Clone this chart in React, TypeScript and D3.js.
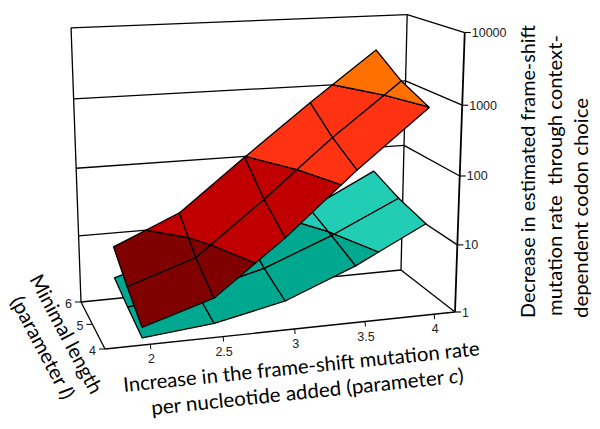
import React from "react";
import * as d3 from "d3";

const cValues = [2, 2.5, 3, 3.5, 4];
const lValues = [4, 5, 6];
const zTicks = [1, 10, 100, 1000, 10000];
// log10 of the decrease, rows l = 4,5,6, columns c = 2..4
const redLog = [
  [0.25, 0.56, 1.32, 2.19, 2.995],
  [0.5, 0.83, 1.6, 2.43, 3.19],
  [0.79, 1.22, 1.99, 2.75, 3.49],
];
const tealLog = [
  [0.1, 0.2, 0.42, 0.83, 1.35],
  [0.2, 0.32, 0.58, 0.98, 1.46],
  [0.32, 0.61, 0.81, 1.12, 1.63],
];
const redBands = [
  { lo: -9, hi: 1, fill: "#800000" },
  { lo: 1, hi: 2, fill: "#c00000" },
  { lo: 2, hi: 3, fill: "#ff3311" },
  { lo: 3, hi: 9, fill: "#ff7000" },
];
const tealBands = [
  { lo: -9, hi: 1, fill: "#00a88f" },
  { lo: 1, hi: 9, fill: "#22cdb5" },
];

const O = [105, 349], X = [455, 312], XY = [401, 270], Y = [81, 302];
const XZ = [465, 33], XYZ = [407, 15], YZ = [71, 28];

function solveCamera() {
  const [x0, y0] = O, [x1, y1] = X, [x2, y2] = XY, [x3, y3] = Y;
  const dx1 = x1 - x2, dx2 = x3 - x2, sx = x0 - x1 + x2 - x3, dy1 = y1 - y2, dy2 = y3 - y2, sy = y0 - y1 + y2 - y3;
  const den = dx1 * dy2 - dx2 * dy1;
  const g = (sx * dy2 - dx2 * sy) / den, h = (dx1 * sy - sx * dy1) / den;
  const a = x1 - x0 + g * x1, b = x3 - x0 + h * x3, d = y1 - y0 + g * y1, e = y3 - y0 + h * y3;
  const rows: number[][] = [], rhs: number[] = [];
  ([[1, 0, XZ], [1, 1, XYZ], [0, 1, YZ]] as any[]).forEach(([u, v, p]) => {
    const w = g * u + h * v + 1;
    rows.push([1, 0, -p[0]]); rhs.push(p[0] * w - (a * u + b * v + x0));
    rows.push([0, 1, -p[1]]); rhs.push(p[1] * w - (d * u + e * v + y0));
  });
  const A = [0, 1, 2].map(i => [0, 1, 2].map(j => rows.reduce((s, r) => s + r[i] * r[j], 0)));
  const B = [0, 1, 2].map(i => rows.reduce((s, r, k) => s + r[i] * rhs[k], 0));
  for (let i = 0; i < 3; i++) for (let k = i + 1; k < 3; k++) {
    const f = A[k][i] / A[i][i];
    for (let j = i; j < 3; j++) A[k][j] -= f * A[i][j];
    B[k] -= f * B[i];
  }
  const z = [0, 0, 0];
  for (let i = 2; i >= 0; i--) {
    z[i] = B[i];
    for (let j = i + 1; j < 3; j++) z[i] -= A[i][j] * z[j];
    z[i] /= A[i][i];
  }
  return { a, b, c: x0, d, e, f: y0, g, h, Az: z[0], Bz: z[1], Cz: z[2] };
}
const P = solveCamera();
const proj = (u: number, v: number, w: number): [number, number] => {
  const D = P.g * u + P.h * v + P.Cz * w + 1;
  return [(P.a * u + P.b * v + P.Az * w + P.c) / D, (P.d * u + P.e * v + P.Bz * w + P.f) / D + w * (10 * u - 7)];
};

const cTick = d3.scaleLinear().domain([2, 4]).range([0.125, 0.938]);
const cSurf = d3.scaleLinear().domain([2, 4]).range([0.103, 0.906]);
const lScale = d3.scaleLinear().domain([4, 6]).range([0, 1]);
const zScale = d3.scaleLinear().domain([0, 4]).range([0, 1]);
const zLog = d3.scaleLog().domain([1, 10000]).range([0, 1]);
const line = d3.line();

type V = { c: number; l: number; z: number };
function clip(poly: V[], lo: number, hi: number) {
  const cut = (pts: V[], level: number, keepAbove: boolean) => {
    const out: V[] = [];
    pts.forEach((p, i) => {
      const q = pts[(i + 1) % pts.length];
      const pin = keepAbove ? p.z >= level : p.z <= level;
      const qin = keepAbove ? q.z >= level : q.z <= level;
      if (pin) out.push(p);
      if (pin !== qin) {
        const t = (level - p.z) / (q.z - p.z);
        out.push({ c: p.c + (q.c - p.c) * t, l: p.l + (q.l - p.l) * t, z: level });
      }
    });
    return out;
  };
  const a = cut(poly, lo, true);
  return a.length ? cut(a, hi, false) : a;
}

function Surface({ data, bands }: { data: number[][]; bands: typeof redBands }) {
  const paths: React.ReactNode[] = [];
  for (let r = lValues.length - 2; r >= 0; r--) {
    for (let j = 0; j < cValues.length - 1; j++) {
      const cell: V[] = [
        { c: cValues[j], l: lValues[r], z: data[r][j] },
        { c: cValues[j + 1], l: lValues[r], z: data[r][j + 1] },
        { c: cValues[j + 1], l: lValues[r + 1], z: data[r + 1][j + 1] },
        { c: cValues[j], l: lValues[r + 1], z: data[r + 1][j] },
      ];
      bands.forEach((b, k) => {
        const piece = clip(cell, b.lo, b.hi);
        if (piece.length < 3) return;
        const pts = piece.map(p => proj(cSurf(p.c), lScale(p.l), zScale(p.z)));
        paths.push(
          <path key={`${r}-${j}-${k}`} d={line(pts) + "Z"} fill={b.fill} stroke="#000" strokeWidth={1.3} strokeLinejoin="round" />
        );
      });
    }
  }
  return <g>{paths}</g>;
}

const SANS = "'Liberation Sans', Arial, sans-serif";
const TITLE = "Lato, sans-serif";

function Title({ x, y, angle, len, size = 20, children }: any) {
  return (
    <text transform={`translate(${x},${y}) rotate(${angle})`} fontFamily={TITLE} fontSize={size} fill="#000"
      textLength={len} lengthAdjust="spacingAndGlyphs" style={{ whiteSpace: "pre" }}>{children}</text>
  );
}

export default function App() {
  const seg = (a: [number, number], b: [number, number], w = 1.3, key?: any) => (
    <path key={key} d={line([a, b]) as string} stroke="#000" strokeWidth={w} fill="none" />
  );
  return (
    <svg width={600} height={429} style={{ position: "absolute", left: 0, top: 0, background: "#fff" }}>
      {zTicks.map(t => (
        <g key={t}>
          {t > 1 && seg(proj(0, 1, zLog(t)), proj(1, 1, zLog(t)))}
          {t > 1 && seg(proj(1, 1, zLog(t)), proj(1, 0, zLog(t)))}
        </g>
      ))}
      {seg(proj(0, 1, 0), proj(0, 1, 1))}
      {seg(proj(1, 1, 0), proj(1, 1, 1))}
      {seg(proj(0, 1, 0), proj(1, 1, 0))}
      {seg(proj(0, 0, 0), proj(0, 1, 0))}
      {seg(proj(1, 1, 0), proj(1, 0, 0))}
      {seg(proj(0, 0, 0), proj(1, 0, 0))}
      {seg(proj(1, 0, 0), proj(1, 0, 1), 1.8)}

      <Surface data={tealLog} bands={tealBands} />
      <Surface data={redLog} bands={redBands} />

      {zTicks.map(t => {
        const [x, y] = proj(1, 0, zLog(t));
        return (
          <g key={t}>
            {seg([x, y], [x + 6, y], 1.1)}
            <text x={x + 7} y={y + 4.5} fontFamily={SANS} fontSize={12.5} fill="#222">{t}</text>
          </g>
        );
      })}
      {cValues.map(c => {
        const [x, y] = proj(cTick(c), 0, 0);
        return (
          <g key={c}>
            {seg([x, y], [x + 0.5, y + 5], 1)}
            <text x={x + 1} y={y + 19} textAnchor="middle" fontFamily={SANS} fontSize={12.5} fill="#222">{c}</text>
          </g>
        );
      })}
      {lValues.map(l => {
        const [x, y] = proj(0, lScale(l), 0);
        return (
          <g key={l}>
            {seg([x, y], [x - 6, y], 1)}
            <text x={x - 9} y={y + 6} textAnchor="end" fontFamily={SANS} fontSize={12.5} fill="#222">{l}</text>
          </g>
        );
      })}

      <Title x={124} y={392} angle={-5.9} len={358}>Increase in the frame-shift mutation rate</Title>
      <Title x={152} y={415} angle={-6} len={314}>per nucleotide added (parameter <tspan fontStyle="italic">c</tspan>)</Title>
      <Title x={29} y={279} angle={62} len={132}>Minimal length</Title>
      <Title x={10} y={301} angle={62} len={113}>(parameter <tspan fontStyle="italic">l</tspan>)</Title>
      <Title x={535} y={318} angle={-90} len={293}>Decrease in estimated frame-shift</Title>
      <Title x={562} y={316} angle={-90} len={281}>{"mutation rate  through context-"}</Title>
      <Title x={588} y={318} angle={-90} len={220}>dependent codon choice</Title>
    </svg>
  );
}
